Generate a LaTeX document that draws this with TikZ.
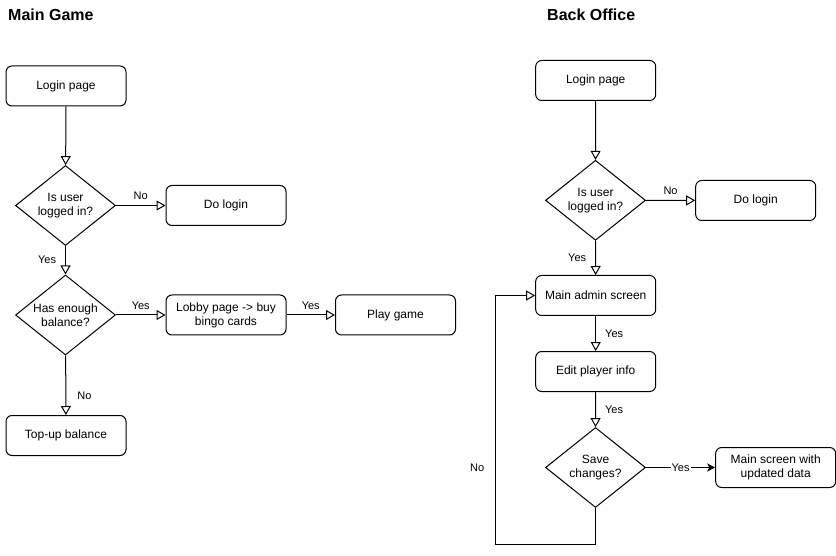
\documentclass[tikz,border=0pt]{standalone}
\usepackage{fontspec}
\setmainfont{Liberation Sans}
\usetikzlibrary{arrows.meta,shapes.geometric}
\begin{document}
\begin{tikzpicture}[x=1pt,y=-1pt,
  every node/.style={font=\fontsize{12}{14}\selectfont},
  box/.style={draw,line width=1pt,rounded corners=6pt,fill=white,minimum width=120pt,minimum height=40pt,inner sep=0pt,align=center},
  dia/.style={draw,line width=1pt,diamond,fill=white,minimum width=100pt,minimum height=80pt,inner sep=0pt,aspect=1.25},
  dtxt/.style={align=center,font=\fontsize{12}{14}\selectfont},
  lab/.style={font=\fontsize{11}{13}\selectfont,inner sep=1pt},
  ttl/.style={font=\fontsize{16}{19}\selectfont\bfseries,anchor=west,inner sep=0pt},
  con/.style={line width=1pt},
  arr/.style={con,-{Triangle[open,length=9pt,width=10pt]}},
  farr/.style={con,-{Stealth[length=8pt,width=8pt,inset=2pt]}}]
\useasboundingbox (0,0) rectangle (836,556);

% ---------- Main Game ----------
\node[ttl] (t1) at (8,15) {Main Game};
\node[box] (login1) at (66,86) {Login page};
\node[dia,label={[dtxt]center:Is user\\logged in?}] (d1) at (65.5,205.5) {};
\node[box] (dol1) at (226,205.5) {Do login};
\node[dia,label={[dtxt]center:Has enough\\balance?}] (d2) at (65.5,315) {};
\node[box] (lobby) at (226,315) {Lobby page -> buy\\bingo cards};
\node[box] (play) at (395.5,315) {Play game};
\node[box] (topup) at (66,435.5) {Top-up balance};

\draw[arr] (login1) -- (d1);
\draw[arr] (d1) -- node[lab,above=4pt] {No} (dol1);
\draw[arr] (d1) -- node[lab,left=8pt] {Yes} (d2);
\draw[arr] (d2) -- node[lab,above=4pt] {Yes} (lobby);
\draw[arr] (lobby) -- node[lab,above=4pt] {Yes} (play);
\draw[arr] (d2) -- node[lab,pos=0.67,right=10pt] {No} (topup);

% ---------- Back Office ----------
\node[ttl] (t2) at (547,15) {Back Office};
\node[box] (login2) at (595.7,80.5) {Login page};
\node[dia,label={[dtxt]center:Is user\\logged in?}] (d3) at (595.5,200.3) {};
\node[box] (dol2) at (755.7,200.5) {Do login};
\node[box] (admin) at (595.7,295.5) {Main admin screen};
\node[box] (edit) at (595.7,371.5) {Edit player info};
\node[dia,label={[dtxt]center:Save\\changes?}] (d4) at (595.5,467.5) {};
\node[box] (mainup) at (775.7,467.5) {Main screen with\\updated data};
\coordinate (lb) at (495.7,544.7);
\coordinate (lt) at (495.7,295.5);

\draw[arr] (login2) -- (d3);
\draw[arr] (d3) -- node[lab,above=4pt] {No} (dol2);
\draw[arr] (d3) -- node[lab,left=8pt] {Yes} (admin);
\draw[arr] (admin) -- node[lab,right=8pt] {Yes} (edit);
\draw[arr] (edit) -- node[lab,right=8pt] {Yes} (d4);
\draw[farr] (d4) -- node[lab,fill=white,pos=0.5] {Yes} (mainup);
\draw[arr] (d4.south) |- (lb) -- node[lab,pos=0.31,left=10pt] {No} (lt) -- (admin.west);
\end{tikzpicture}
\end{document}
